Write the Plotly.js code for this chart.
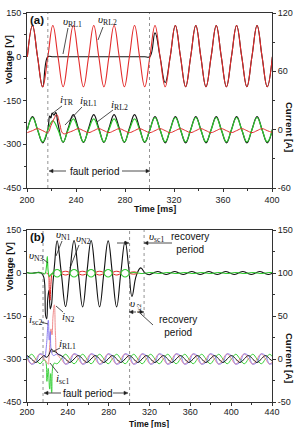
<!DOCTYPE html>
<html>
<head>
<meta charset="utf-8">
<script src="https://cdn.plot.ly/plotly-3.0.1.min.js"></script>
<style>
  html, body { margin: 0; padding: 0; background: #fff; }
  #chart { width: 298px; height: 428px; }
</style>
</head>
<body>
<div id="chart"></div>
<script>
// ---------- panel (a): load voltages and currents, quarter-cycle instants [ms]
const tA = [200.3, 204.5, 208.6, 212.8, 217.0, 221.1, 225.3, 229.5, 233.6, 237.8,
            241.9, 246.1, 250.3, 254.5, 258.6, 262.8, 266.9, 271.1, 275.3, 279.5,
            283.6, 287.8, 291.9, 296.1, 300.3, 304.5, 308.6, 312.8, 316.9, 321.1,
            325.3, 329.5, 333.6, 337.8, 341.9, 346.1, 350.3, 354.5, 358.6, 362.8,
            366.9, 371.1, 375.3, 379.5, 383.6, 387.8, 391.9, 396.1, 400.3];

// υRL2 [V]
const vRL2 = [0, 107, 0, -103, 0, 107, 0, -103, 0, 107, 0, -103, 0, 107, 0, -103,
              0, 107, 0, -103, 0, 107, 0, -103, 0, 107, 0, -103, 0, 107, 0, -103,
              0, 107, 0, -103, 0, 107, 0, -103, 0, 107, 0, -103, 0, 107, 0, -103, 0];
// υRL1 [V]
const vRL1 = [0, 107, 0, -103, 0, 0, 0, 0, 0, 0, 0, 0, 0, 0, 0, 0,
              0, 0, 0, 0, 0, 0, 0, 0, 0, 82, 0, -89, 0, 107, 0, -103,
              0, 107, 0, -103, 0, 107, 0, -103, 0, 107, 0, -103, 0, 107, 0, -103, 0];
// iRL1 [A]
const iRL1 = [0, 12.5, 0, -12.5, 0, 9, 0, -12.5, 0, 11, 0, -12.5, 0, 11, 0, -12.5,
              0, 11, 0, -12.5, 0, 11, 0, -12.5, 0, 12.5, 0, -12.5, 0, 12.5, 0, -12.5,
              0, 12.5, 0, -12.5, 0, 12.5, 0, -12.5, 0, 12.5, 0, -12.5, 0, 12.5, 0, -12.5, 0];
// iTR [A]
const iTR = [0, 13.5, 0, -13.5, 0, 17, 6, -13, 1.5, 15.5, 1.5, -13, 1.5, 15.5, 1.5, -13,
             1.5, 15.5, 1.5, -13, 1.5, 15.5, 1.5, -13, 0, 13.5, 0, -13.5, 0, 13.5, 0, -13.5,
             0, 13.5, 0, -13.5, 0, 13.5, 0, -13.5, 0, 13.5, 0, -13.5, 0, 13.5, 0, -13.5, 0];
const iTRFaultT = [218.5, 219.5, 220.5, 222.0, 223.5];
const iTRFaultV = [14, 12, 17, 15, 17.5];
// iRL2 [A]
const iRL2 = [-3, -1, 1, -1, -3, -1, 1, -1, -3, -1, 1, -1, -3, -1, 1, -1,
              -3, -1, 1, -1, -3, -1, 1, -1, -3, -1, 1, -1, -3, -1, 1, -1,
              -3, -1, 1, -1, -3, -1, 1, -1, -3, -1, 1, -1, -3, -1, 1, -1, -3];
const iRL2FaultT = [219.5, 222.0, 224.3, 226.5, 229.5];
const iRL2FaultV = [4, 11, 15.5, 7, -4];

// ---------- panel (b): node voltages and short-circuit currents
const tB = [200.3, 204.5, 208.6, 212.8, 217.0, 221.1, 225.3, 229.5, 233.6, 237.8,
            241.9, 246.1, 250.3, 254.5, 258.6, 262.8, 266.9, 271.1, 275.3, 279.5,
            283.6, 287.8, 291.9, 296.1, 300.3, 304.5, 308.6, 312.8, 316.9, 321.1,
            325.3, 329.5, 333.6, 337.8, 341.9, 346.1, 350.3, 354.5, 358.6, 362.8,
            366.9, 371.1, 375.3, 379.5, 383.6, 387.8, 391.9, 396.1, 400.3, 404.5,
            408.6, 412.8, 416.9, 421.1, 425.3, 429.5, 433.6, 437.8, 441.9];

// υN1 [V]
const vN1T = [200, 205, 210, 214, 216.5, 218.3, 219.3, 220.3, 221.5, 222.8,
              224, 225.3, 227, 229.5, 233.6, 237.8, 241.9, 246.1, 250.3, 254.5,
              258.6, 262.8, 266.9, 271.1, 275.3, 279.5, 283.6, 287.8, 291.9, 296.1,
              299.6, 302.8, 307, 311.4, 315.6, 319.7, 323.9, 328.1, 332.2, 336.4,
              340.6, 344.7, 348.9, 353.1, 357.2, 361.4, 365.6, 369.7, 373.9, 378.1,
              382.2, 386.4, 390.6, 394.7, 398.9, 403.1, 407.2, 411.4, 415.6, 419.7,
              423.9, 428.1, 432.2, 436.4, 440.6];
const vN1 = [2, -1, 2, 0, -15, -150, -160, -90, -60, -125,
             -110, -40, 30, 112, 0, -117, 0, 113, 0, -118,
             0, 113, 0, -118, 0, 112, 0, -118, 0, 110,
             20, -82, -10, 18, 0, -6, 0, 5, 0, -5,
             0, 5, 0, -5, 0, 5, 0, -5, 0, 5,
             0, -5, 0, 5, 0, -5, 0, 5, 0, -5,
             0, 5, 0, -5, 0];

// υN3 [V] (green): onset, lobes during the fault, recovery ripple
const vN3T = [200, 205, 210, 215, 217.5, 219, 219.9, 220.8, 222, 223.5, 225.3, null,
              225.3, 229.5, 233.6, 229.5, 225.3, null,
              241.9, 246.1, 250.3, 246.1, 241.9, null,
              258.6, 262.8, 266.9, 262.8, 258.6, null,
              275.3, 279.5, 283.6, 279.5, 275.3, null,
              291.9, 296.1, 300.3, 296.1, 291.9, null,
              300.3, 304.5, 308.6, 312.8, 316.9, 321.1, 325.3, 329.5, 333.6, 337.8,
              341.9, 346.1, 350.3, 354.5, 358.6, 362.8, 366.9, 371.1, 375.3, 379.5,
              383.6, 387.8, 391.9, 396.1, 400.3, 404.5, 408.6, 412.8, 416.9, 421.1,
              425.3, 429.5, 433.6, 437.8, 441.9];
const vN3 = [1, -1, 1, 0, -3, 20, 57, 5, -12, -5, 0, null,
             0, 12, 0, -14, 0, null,
             0, 12, 0, -14, 0, null,
             0, 12, 0, -14, 0, null,
             0, 12, 0, -14, 0, null,
             0, 12, 0, -14, 0, null,
             0, 2, 0, -2, 0, 2, 0, -2, 0, 2,
             0, -2, 0, 2, 0, -2, 0, 2, 0, -2,
             0, 2, 0, -2, 0, 2, 0, -2, 0, 2,
             0, -2, 0, 2, 0];

// υN2 [V] (red): onset dip and lobes during the fault
const vN2T = [219, 220.8, 221.8, 222.6, 223.4, 224.5, 225.3, null,
              233.6, 237.8, 241.9, 237.8, 233.6, null,
              250.3, 254.5, 258.6, 254.5, 250.3, null,
              266.9, 271.1, 275.3, 271.1, 266.9, null,
              283.6, 287.8, 291.9, 287.8, 283.6, null,
              300.3, 304.5, 308.6, 304.5, 300.3];
const vN2 = [0, -5, -55, -95, -40, -3, 0, null,
             0, 6, 0, -7, 0, null,
             0, 6, 0, -7, 0, null,
             0, 6, 0, -7, 0, null,
             0, 6, 0, -7, 0, null,
             0, 4, 0, -4, 0];

// currents [A] on tB
const iSc1 = [0, 5.5, 0, -5.5, 0, 5.5, 0, -5.5, 0, 5.5, 0, -5.5, 0, 5.5, 0, -5.5,
              0, 5.5, 0, -5.5, 0, 5.5, 0, -5.5, 0, 5.5, 0, -5.5, 0, 5.5, 0, -5.5,
              0, 5.5, 0, -5.5, 0, 5.5, 0, -5.5, 0, 5.5, 0, -5.5, 0, 5.5, 0, -5.5,
              0, 5.5, 0, -5.5, 0, 5.5, 0, -5.5, 0, 5.5, 0];
const iSc1FaultT = [216.5, 218.3, 219.5, 220.8, 222.2, 223.2, 224.2, 226.5, 229.5];
const iSc1FaultV = [-1, -3, -26, -11, -35, -17, -39, -5, -5.5];

const iN2 = [0, -6, 0, 6, 0, -6, 0, 6, 0, -6, 0, 6, 0, -6, 0, 6,
             0, -6, 0, 6, 0, -6, 0, 6, 0, -6, 0, 6, 0, -6, 0, 6,
             0, -6, 0, 6, 0, -6, 0, 6, 0, -6, 0, 6, 0, -6, 0, 6,
             0, -6, 0, 6, 0, -6, 0, 6, 0, -6, 0];
const iN2FaultT = [221.3, 222.5, 223.5, 224.5, 225.5, 226.8, 228, 229.5];
const iN2FaultV = [-3, 20, 35, 28, 50, 63, 25, 6];

const iSc2 = [3.7, -5.9, -3.7, 5.9, 3.7, -5.9, -3.7, 5.9, 3.7, -5.9, -3.7, 5.9, 3.7, -5.9, -3.7, 5.9,
              3.7, -5.9, -3.7, 5.9, 3.7, -5.9, -3.7, 5.9, 3.7, -5.9, -3.7, 5.9, 3.7, -5.9, -3.7, 5.9,
              3.7, -5.9, -3.7, 5.9, 3.7, -5.9, -3.7, 5.9, 3.7, -5.9, -3.7, 5.9, 3.7, -5.9, -3.7, 5.9,
              3.7, -5.9, -3.7, 5.9, 3.7, -5.9, -3.7, 5.9, 3.7, -5.9, -3.7];
const iSc2FaultT = [217.5, 219.0, 220.9, 221.8, 222.8, 224.0, 226.0];
const iSc2FaultV = [2, 15, 45, 22, 32, 8, 4];

const iRL1b = [4, 0, -4, 0, 4, 0, -4, 0, 4, 0, -4, 0, 4, 0, -4, 0,
               4, 0, -4, 0, 4, 0, -4, 0, 4, 0, -4, 0, 4, 0, -4, 0,
               4, 0, -4, 0, 4, 0, -4, 0, 4, 0, -4, 0, 4, 0, -4, 0,
               4, 0, -4, 0, 4, 0, -4, 0, 4, 0, -4];
const iRL1bFaultT = [218.5, 220.5, 222.5, 224.1, 226, 228.5, 231];
const iRL1bFaultV = [2, 3, 8, 11.5, 9, 8, 5];

// ---------- axis ticks
const timeTicksA = [200, 240, 280, 320, 360, 400];
const timeTicksB = [200, 240, 280, 320, 360, 400, 440];
const voltTicks = [-450, -300, -150, 0, 150];
const voltTickText = ['-450', '-300', '-150', '0', '150'];
const currTicksA = [-60, 0, 60, 120];
const currTickTextA = ['-60', '0', '60', '120'];
const currTicksB = [-50, 0, 50, 100, 150];
const currTickTextB = ['-50', '0', '50', '100', '150'];

// replace the grid samples covering the fault onset with the finer onset samples
function withOnset(t, v, ft, fv) {
  const a = ft[0], b = ft[ft.length - 1];
  const pts = [];
  t.forEach((ti, i) => { if (ti < a || ti > b) pts.push([ti, v[i]]); });
  ft.forEach((ti, i) => pts.push([ti, fv[i]]));
  pts.sort((p, q) => p[0] - q[0]);
  return { x: pts.map(p => p[0]), y: pts.map(p => p[1]) };
}

const SANS = 'Liberation Sans, Arial, sans-serif';
const SERIF = 'Liberation Serif, Times New Roman, serif';

function wave(x, y, xa, ya, color, width) {
  return { x: x, y: y, xaxis: xa, yaxis: ya, type: 'scatter', mode: 'lines',
           line: { color: color, width: width || 1.1, shape: 'spline', smoothing: 1.2 },
           connectgaps: false, hoverinfo: 'skip', showlegend: false };
}

const trTR = withOnset(tA, iTR, iTRFaultT, iTRFaultV);
const trRL2 = withOnset(tA, iRL2, iRL2FaultT, iRL2FaultV);
const trSc1 = withOnset(tB, iSc1, iSc1FaultT, iSc1FaultV);
const trN2 = withOnset(tB, iN2, iN2FaultT, iN2FaultV);
const trSc2 = withOnset(tB, iSc2, iSc2FaultT, iSc2FaultV);
const trRL1b = withOnset(tB, iRL1b, iRL1bFaultT, iRL1bFaultV);

const data = [
  // (a) voltages
  wave(tA, vRL1, 'x', 'y', '#111111', 1.1),
  wave(tA, vRL2, 'x', 'y', '#e32b2b', 1.1),
  // (a) currents
  wave(trTR.x, trTR.y, 'x', 'y2', '#111111', 1.2),
  wave(tA, iRL1, 'x', 'y2', '#2ec82e', 1.2),
  wave(trRL2.x, trRL2.y, 'x', 'y2', '#e32b2b', 1.0),
  // (b) voltages
  wave(vN1T, vN1, 'x2', 'y3', '#111111', 1.1),
  wave(vN2T, vN2, 'x2', 'y3', '#e02020', 1.0),
  wave(vN3T, vN3, 'x2', 'y3', '#33cc33', 1.1),
  // (b) currents
  wave(trSc1.x, trSc1.y, 'x2', 'y4', '#3ad13a', 1.0),
  wave(trN2.x, trN2.y, 'x2', 'y4', '#f08c8c', 1.0),
  wave(trSc2.x, trSc2.y, 'x2', 'y4', '#8a7df0', 1.0),
  wave(trRL1b.x, trRL1b.y, 'x2', 'y4', '#111111', 1.0)
];

// ---------- layout helpers (page pixels -> paper coordinates)
const L = 27, R = 272, T = 13, B = 402;
const PX = x => (x - L) / (R - L);
const PY = y => (B - y) / (B - T);

function text(s, x, y, size, opt) {
  return Object.assign({ xref: 'paper', yref: 'paper', x: PX(x), y: PY(y), text: s,
    showarrow: false, xanchor: 'center', yanchor: 'middle',
    font: { family: SANS, size: size || 10, color: '#111' } }, opt || {});
}
function sym(s, x, y) {
  return text(s, x, y, 11, { font: { family: SERIF, size: 11, color: '#111' } });
}

// leader lines and arrows are drawn as shapes
const guides = [];
function seg(x0, y0, x1, y1) {
  guides.push({ type: 'line', xref: 'paper', yref: 'paper',
    x0: PX(x0), y0: PY(y0), x1: PX(x1), y1: PY(y1),
    line: { color: '#222', width: 0.8 } });
}
function arrow(x0, y0, x1, y1) {
  // shaft from (x0,y0) with a small filled head whose tip sits at (x1,y1)
  const dx = x1 - x0, dy = y1 - y0, len = Math.hypot(dx, dy);
  const ux = dx / len, uy = dy / len, hl = 4, hw = 1.8;
  const bx = x1 - ux * hl, by = y1 - uy * hl;
  seg(x0, y0, bx, by);
  const p1 = [bx - uy * hw, by + ux * hw], p2 = [bx + uy * hw, by - ux * hw];
  guides.push({ type: 'path', xref: 'paper', yref: 'paper',
    path: 'M' + PX(x1) + ',' + PY(y1) + ' L' + PX(p1[0]) + ',' + PY(p1[1]) +
          ' L' + PX(p2[0]) + ',' + PY(p2[1]) + ' Z',
    fillcolor: '#222', line: { color: '#222', width: 0.5 } });
}

const annotations = [
  // axis titles
  text('<b>Voltage [V]</b>', 9, 60, 9.5, { textangle: -90 }),
  text('<b>Current [A]</b>', 290, 127, 9.5, { textangle: 90 }),
  text('<b>Time [ms]</b>', 155, 209, 9),
  text('<b>Voltage [V]</b>', 9, 267, 9.5, { textangle: -90 }),
  text('<b>Current [A]</b>', 290, 358, 9.5, { textangle: 90 }),
  text('<b>Time [ms]</b>', 149, 423.5, 8.5),
  // panel tags
  text('<b>(a)</b>', 37, 20, 11.5),
  text('<b>(b)</b>', 37, 237, 11.5),
  // (a) trace labels
  sym('<i>υ</i><sub>RL1</sub>', 72, 22),
  sym('<i>υ</i><sub>RL2</sub>', 107, 20),
  sym('<i>i</i><sub>TR</sub>', 67, 100),
  sym('<i>i</i><sub>RL1</sub>', 88, 101),
  sym('<i>i</i><sub>RL2</sub>', 119, 105),
  text('fault period', 94, 171, 10),
  // (b) trace labels
  sym('<i>υ</i><sub>N1</sub>', 63, 235),
  sym('<i>υ</i><sub>N2</sub>', 83, 239),
  sym('<i>υ</i><sub>N3</sub>', 36, 256),
  sym('<i>υ</i><sub>sc1</sub>', 156, 237),
  text('recovery<br>period', 190, 243, 10),
  sym('<i>υ</i>', 132, 303),
  text('sc2', 139, 308, 7, { textangle: -90, font: { family: SERIF, size: 7, color: '#111' } }),
  text('recovery<br>period', 178, 326, 10),
  sym('<i>i</i><sub>sc2</sub>', 35, 320),
  sym('<i>i</i><sub>N2</sub>', 68, 317),
  sym('<i>i</i><sub>RL1</sub>', 67, 344),
  sym('<i>i</i><sub>sc1</sub>', 62, 379),
  text('fault period', 87, 393, 10)
];

// (a) leaders and fault-period arrows
seg(68, 28, 63, 54); seg(103, 27, 98, 40);
seg(62, 106, 53, 113); seg(82, 107, 65, 125); seg(113, 110, 97, 122);
arrow(66, 171, 49, 171); arrow(122, 171, 150, 171);
// (b) leaders, recovery and fault-period arrows
seg(62, 241, 56, 256); seg(79, 245, 70, 268); seg(43, 259, 48, 263);
arrow(117, 243, 129, 243); arrow(172, 243, 144, 243);
arrow(136, 312, 129, 312); arrow(137, 312, 144, 312);
seg(141, 314, 153, 325);
seg(41, 322, 48, 324); seg(63, 312, 56, 306); seg(60, 348, 52, 352); seg(58, 373, 50, 363);
arrow(61, 393, 44, 393); arrow(113, 393, 128, 393);

function vline(xa, ya, xv, y0, y1) {
  return { type: 'line', xref: xa, yref: ya, x0: xv, x1: xv, y0: y0, y1: y1,
           line: { color: '#777', width: 0.8, dash: 'dot' } };
}
const shapes = [
  vline('x', 'y domain', 217, 0, 1),
  vline('x', 'y domain', 300, 0, 1),
  vline('x2', 'y3 domain', 215.7, 0, 1),
  vline('x2', 'y3 domain', 300.5, 0, 1),
  vline('x2', 'y3', 314.7, -150, 150)
].concat(guides);

const axisBase = {
  showline: true, linecolor: '#333', linewidth: 1, ticks: 'outside', ticklen: 3,
  tickwidth: 1, tickcolor: '#333', showgrid: false, zeroline: false, fixedrange: true,
  tickfont: { family: SANS, size: 9, color: '#222' }, tickmode: 'array'
};
function minor(t0, d) {
  return { ticks: 'outside', ticklen: 2, tickmode: 'linear', tick0: t0, dtick: d, tickcolor: '#333', showgrid: false };
}

const dA = [(B - 188) / (B - T), 1];
const dB = [0, (B - 230) / (B - T)];

const layout = {
  width: 298, height: 428,
  margin: { l: L, r: 298 - R, t: T, b: 428 - B, pad: 0 },
  paper_bgcolor: '#fff', plot_bgcolor: '#fff',
  showlegend: false, hovermode: false,
  xaxis: Object.assign({}, axisBase, { domain: [0, 1], anchor: 'y', range: [200, 400], mirror: true,
    tickvals: timeTicksA, ticktext: timeTicksA.map(String), minor: minor(200, 20) }),
  yaxis: Object.assign({}, axisBase, { domain: dA, anchor: 'x', range: [-450, 150],
    tickvals: voltTicks, ticktext: voltTickText, minor: minor(-450, 75) }),
  yaxis2: Object.assign({}, axisBase, { overlaying: 'y', side: 'right', anchor: 'x', range: [-60, 120],
    tickvals: currTicksA, ticktext: currTickTextA, minor: minor(-60, 30) }),
  xaxis2: Object.assign({}, axisBase, { domain: [0, 1], anchor: 'y3', range: [200, 440], mirror: true,
    tickvals: timeTicksB, ticktext: timeTicksB.map(String), minor: minor(200, 20),
    ticklabelstandoff: -2 }),
  yaxis3: Object.assign({}, axisBase, { domain: dB, anchor: 'x2', range: [-450, 150],
    tickvals: voltTicks, ticktext: voltTickText, minor: minor(-450, 75) }),
  yaxis4: Object.assign({}, axisBase, { overlaying: 'y3', side: 'right', anchor: 'x2', range: [-50, 150],
    tickvals: currTicksB, ticktext: currTickTextB, minor: minor(-50, 25) }),
  annotations: annotations,
  shapes: shapes
};

Plotly.newPlot('chart', data, layout, { staticPlot: true, displayModeBar: false });
</script>
</body>
</html>
